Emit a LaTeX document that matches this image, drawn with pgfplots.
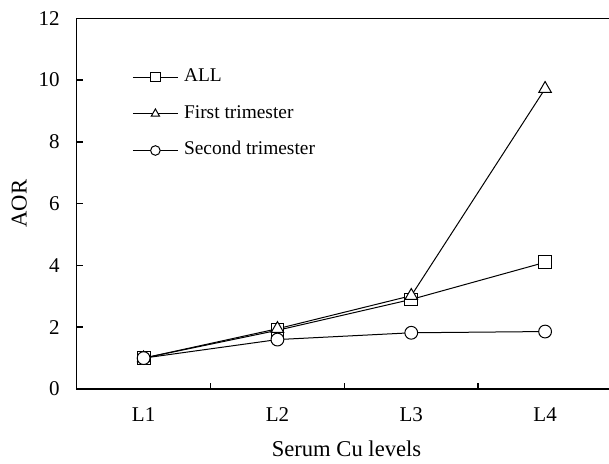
\documentclass[border=0pt]{standalone}
\usepackage{fontspec}
\setmainfont{Liberation Serif}
\usepackage{pgfplots}
\pgfplotsset{compat=1.18}
\begin{document}
\begin{tikzpicture}
\begin{axis}[
  name=ax,
  scale only axis,
  width=267.65bp, height=185.35bp,
  xmin=0.5, xmax=4.5,
  ymin=0, ymax=12,
  clip=false,
  axis line style={line width=0.75bp},
  xtick={1.5,2.5,3.5},
  xticklabels={},
  extra x ticks={1,2,3,4},
  extra x tick labels={L1,L2,L3,L4},
  extra x tick style={major tick length=0pt},
  ytick={0,2,...,12},
  tick align=inside,
  major tick length=3.2bp,
  tick style={line width=0.75bp, black},
  xtick pos=bottom, ytick pos=left,
  /pgf/number format/assume math mode=true,
  tick label style={font=\fontsize{10.5bp}{12bp}\selectfont, inner sep=0pt},
  xticklabel style={anchor=base, yshift=-16.3bp},
  yticklabel style={anchor=east, xshift=-8.35bp},
  xlabel={Serum Cu levels},
  ylabel={AOR},
  label style={font=\fontsize{11.3bp}{13bp}\selectfont, inner sep=0pt},
  xlabel style={at={(axis description cs:0.504,-0.1826)}, anchor=base},
  ylabel style={at={(axis description cs:-0.0934,0.5)}, anchor=base, rotate=0},
  legend cell align=left,
  legend style={draw=none, fill=none, inner sep=0pt,
    at={(axis description cs:0.1033,0.8654)}, anchor=north west,
    row sep=9.85bp, column sep=2.85bp,
    font=\fontsize{9.7bp}{11bp}\selectfont,
    nodes={inner sep=0pt, text height=6.5bp, text depth=2bp}},
  legend image code/.code={\draw[mark repeat=2,mark phase=2,#1,mark size=2.4bp] plot coordinates {(0bp,0bp) (11.25bp,0bp) (22.5bp,0bp)};},
  every axis plot/.append style={black, line width=0.5bp, mark options={fill=white, solid, line width=0.5bp}},
]
\addplot[mark=square*, mark size=3.2bp] coordinates {(1,1.0) (2,1.9) (3,2.9) (4,4.1)};
\addlegendentry{ALL}
\addplot[mark=triangle*, mark size=3.6bp] coordinates {(1,1.0) (2,1.95) (3,3.02) (4,9.72)};
\addlegendentry{First trimester}
\addplot[mark=*, mark size=3.2bp] coordinates {(1,1.0) (2,1.6) (3,1.82) (4,1.86)};
\addlegendentry{Second trimester}
\end{axis}
\pgfresetboundingbox
\path ([xshift=-38.35bp, yshift=-37.5bp]ax.south west) rectangle ([xshift=-1.5bp, yshift=9.15bp]ax.north east);
\end{tikzpicture}
\end{document}
